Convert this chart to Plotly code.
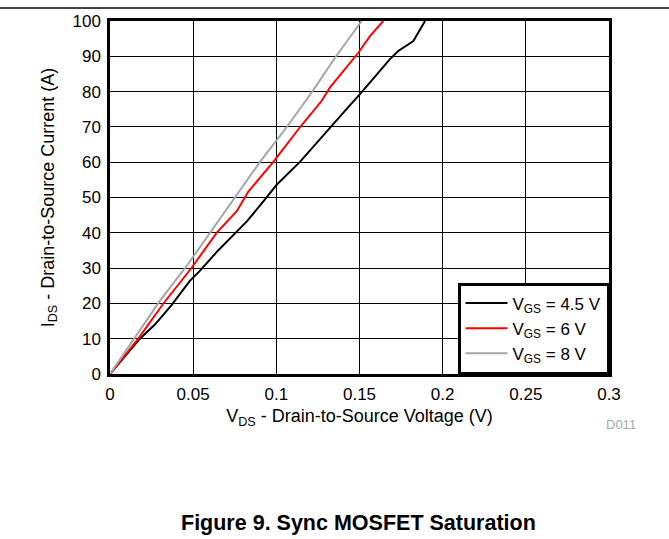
import plotly.graph_objects as go

# V_GS = 4.5 V
vds_45 = [0, 0.018, 0.027, 0.037, 0.048, 0.054, 0.065, 0.0764, 0.0824, 0.0922, 0.1002,
          0.1142, 0.1323, 0.1423, 0.1503, 0.1683, 0.1733, 0.1824, 0.1894]
ids_45 = [0, 10, 14, 19.5, 26.4, 29.2, 35, 40.4, 43.3, 48.9, 53.6,
          60.1, 69.9, 75.1, 79.3, 89.2, 91.5, 94.3, 100]
# V_GS = 6 V
vds_6 = [0, 0.017, 0.032, 0.0491, 0.0641, 0.0762, 0.0832, 0.0982, 0.1142, 0.1273,
         0.1323, 0.1493, 0.1563, 0.1643]
ids_6 = [0, 10, 19.9, 30.1, 40, 46.1, 51.7, 60.1, 69.9, 77.4,
         81.2, 91, 95.7, 100]
# V_GS = 8 V
vds_8 = [0, 0.019, 0.0301, 0.0461, 0.0601, 0.0746, 0.0902, 0.1062, 0.1213, 0.1353, 0.1513]
ids_8 = [0, 13.3, 20.8, 30.6, 40, 49.5, 60.1, 69.9, 79.8, 89.6, 100]

series = [
    ("V<sub>GS</sub> = 4.5 V", vds_45, ids_45, "#000000"),
    ("V<sub>GS</sub> = 6 V", vds_6, ids_6, "#ff0000"),
    ("V<sub>GS</sub> = 8 V", vds_8, ids_8, "#a6a6a6"),
]

FONT = "Liberation Sans"

fig = go.Figure()
for name, x, y, c in series:
    fig.add_trace(go.Scatter(x=x, y=y, mode="lines", name=name,
                             line=dict(color=c, width=2)))

axis_common = dict(showline=True, linecolor="black", linewidth=2.5, mirror=True,
                   showgrid=True, gridcolor="black", gridwidth=1, zeroline=False,
                   ticks="outside", ticklen=3, tickcolor="rgba(0,0,0,0)",
                   tickfont=dict(family=FONT, size=17, color="black"))

fig.update_layout(
    width=669, height=539,
    margin=dict(l=110, r=60, t=18, b=165),
    paper_bgcolor="white", plot_bgcolor="white",
    font=dict(family=FONT, color="black", size=17),
    xaxis=dict(range=[0, 0.3], dtick=0.05, tick0=0,
               title=dict(text="V<sub>DS</sub> - Drain-to-Source Voltage (V)",
                          font=dict(family=FONT, size=18), standoff=7),
               **axis_common),
    yaxis=dict(range=[0, 100], dtick=10, tick0=0,
               title=dict(text="I<sub>DS</sub> - Drain-to-Source Current (A)",
                          font=dict(family=FONT, size=18), standoff=14),
               **axis_common),
    legend=dict(x=1, y=0, xanchor="right", yanchor="bottom",
                bgcolor="white", bordercolor="black", borderwidth=2.5,
                font=dict(family=FONT, size=17, color="black"),
                itemwidth=42, tracegroupgap=0),
    showlegend=True,
)

fig.add_shape(type="line", xref="paper", yref="paper",
              x0=-110 / 499, x1=559 / 499, y0=1.0365, y1=1.0365,
              line=dict(color="black", width=1.5))

fig.add_annotation(text="D011", xref="paper", yref="paper", x=1.024, y=-0.143,
                   xanchor="center", yanchor="middle",
                   showarrow=False, font=dict(family=FONT, size=13, color="#a8a8a8"))
fig.add_annotation(text="<b>Figure 9. Sync MOSFET Saturation</b>", xref="paper", yref="paper",
                   x=0.497, y=-0.421, xanchor="center", yanchor="middle", showarrow=False,
                   font=dict(family=FONT, size=21.5, color="black"))

fig.write_html("out.html")
